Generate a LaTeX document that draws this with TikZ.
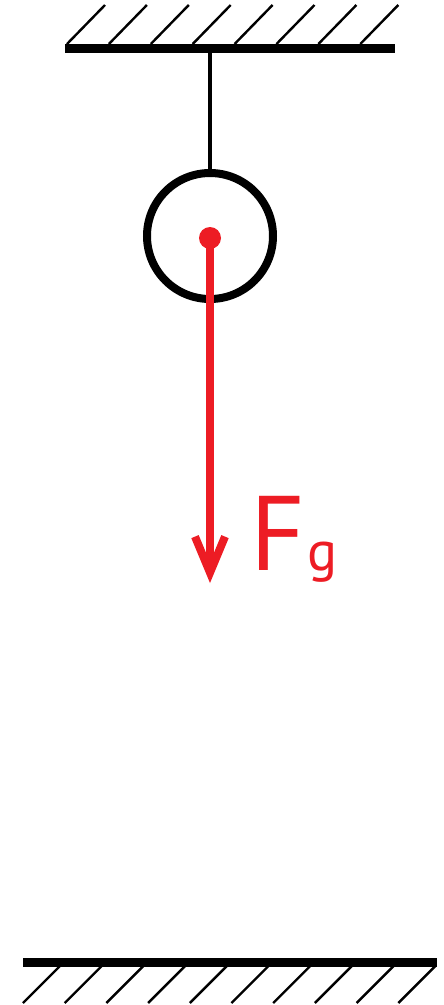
\documentclass[tikz,border=0pt]{standalone}
\usepackage{fontspec}
\newfontfamily\labelfont{PT Sans}
\usepackage{xcolor}
\usetikzlibrary{arrows.meta}

\definecolor{forcered}{RGB}{237,28,36}

\begin{document}
\begin{tikzpicture}[x=1pt,y=-1pt,
  support/.style={line width=9pt},
  hatch/.style={line width=2.4pt},
  mass/.style={draw,circle,line width=8pt,minimum size=126pt,inner sep=0pt},
  dot/.style={circle,fill=forcered,minimum size=22pt,inner sep=0pt},
  force/.style={draw=forcered,line width=8pt,-{Straight Barb[length=36pt,width=30pt]}}]
  \useasboundingbox (0,0) rectangle (444,1005);
  % ceiling
  \coordinate (ceilL) at (65,48);
  \coordinate (ceilR) at (395,48);
  \coordinate (hook) at (210,48);
  \draw[support] (ceilL) -- (ceilR);
  \foreach \i in {0,...,7}
    \draw[hatch] ({67+41.9*\i},44) -- ++(38,-39);
  % ball on its string
  \node[mass] (ball) at (210,236) {};
  \draw[line width=4pt] (hook) -- (ball.north);
  \node[dot] (cm) at (210,238) {};
  % gravity
  \coordinate (tip) at (210,583);
  \draw[force] (cm.center) -- (tip);
  \node[text=forcered,anchor=base west,inner sep=0pt] (fg) at (250,570)
    {\labelfont\fontsize{106}{106}\selectfont F\kern2pt\fontsize{56}{56}\selectfont g};
  % floor
  \coordinate (floorL) at (23,962);
  \coordinate (floorR) at (437,962);
  \draw[support] (floorL) -- (floorR);
  \foreach \i in {0,...,9}
    \draw[hatch] ({60+41.7*\i},966) -- ++(-37,37);
\end{tikzpicture}
\end{document}
